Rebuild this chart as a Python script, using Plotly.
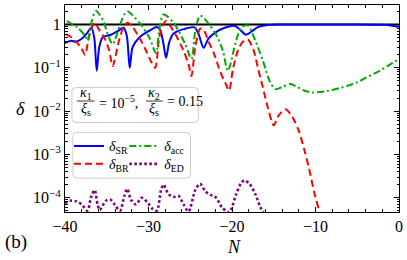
import plotly.graph_objects as go

# ---------------- data ----------------
N_SR = [-40, -39.3, -38.7, -38.0, -37.4, -36.85, -36.5, -36.2, -35.9, -35.5, -34.5, -33.7, -33.0,
        -32.6, -32.25, -31.9, -31.1, -30.0, -29.0, -28.6, -28.2, -27.9, -27.5, -27.0, -25.8,
        -24.5, -24.0, -23.4, -22.8, -22.0, -20.8, -19.7, -19.0, -18.35, -17.6, -16.9, -15.7,
        -14.5, -10, -5, -2, -1, 0]
d_SR = [0.37, 0.42, 0.40, 0.47, 0.62, 0.84, 0.5, 0.085, 0.3, 0.5, 0.58, 0.7, 0.84,
        0.55, 0.1, 0.3, 0.5, 0.7, 0.88, 0.75, 0.35, 0.17, 0.4, 0.62, 0.78,
        0.86, 0.6, 0.29, 0.48, 0.65, 0.85, 0.93, 0.75, 0.58, 0.7, 0.87, 0.97,
        1.0, 1.0, 1.0, 0.98, 0.95, 0.88]

N_BR = [-39.9, -39.2, -38.1, -37.6, -37.2, -36.8, -36.45, -35.9, -35.3, -34.7, -34.3, -33.5,
        -33.0, -32.5, -31.95, -31.1, -30.3, -29.7, -29.2, -28.75, -28.4, -27.9, -27.0, -25.8,
        -25.2, -24.85, -24.4, -23.8, -23.4, -22.8, -22.1, -21.4, -20.8, -20.35, -19.9, -19.3,
        -18.7, -18.1, -17.4, -16.9, -16.3, -15.7, -15.0, -14.4, -13.6, -12.8, -12.0, -11.3,
        -10.8, -10.1, -9.5, -8.9]
d_BR = [0.6, 0.5, 0.3, 0.2, 0.45, 0.85, 1.1, 0.75, 0.5, 0.25, 0.11, 0.45,
        0.85, 1.1, 0.9, 0.5, 0.25, 0.14, 0.1, 0.45, 0.85, 1.2, 0.7, 0.25,
        0.12, 0.065, 0.3, 0.8, 0.75, 0.4, 0.2, 0.08, 0.045, 0.03, 0.09, 0.25,
        0.4, 0.45, 0.25, 0.1, 0.035, 0.012, 0.0047, 0.008, 0.011, 0.0075, 0.0035, 0.0012,
        5e-4, 1.2e-4, 4.5e-5, 1.5e-5]

N_acc = [-39.8, -38.5, -37.6, -37.3, -36.9, -36.3, -35.4, -34.9, -34.3, -33.4, -32.9, -32.5,
         -31.1, -29.9, -29.1, -28.7, -28.2, -27.0, -25.6, -24.85, -24.4, -23.8, -22.05, -21.1,
         -20.5, -19.5, -18.9, -18.1, -17.2, -16.3, -15.5, -14.8, -14.0, -13.0, -12.2, -11.4,
         -10.4, -8.6, -6.9, -5.1, -3.9, -2.1, 0]
d_acc = [1.2, 0.85, 0.55, 0.42, 1.0, 2.05, 1.2, 0.6, 0.35, 1.0, 1.7, 2.0,
         1.1, 0.5, 0.22, 0.8, 1.7, 1.1, 0.35, 0.16, 0.7, 1.6, 0.65, 0.25,
         0.085, 0.42, 0.85, 0.95, 0.42, 0.145, 0.05, 0.032, 0.036, 0.042, 0.036, 0.03,
         0.027, 0.029, 0.035, 0.045, 0.06, 0.09, 0.16]

N_ED = [-40, -39.4, -38.7, -38.0, -37.3, -36.9, -36.45, -36.1, -35.85, -35.1, -34.55, -33.95,
        -33.4, -32.9, -32.55, -32.1, -31.5, -30.8, -30.05, -29.5, -29.0, -28.5, -28.2, -27.6,
        -27.0, -26.4, -25.8, -25.2, -24.4, -23.8, -23.2, -22.5, -21.9, -21.2, -20.35, -19.5,
        -18.9, -18.5, -17.9, -17.2, -16.6, -16.1, -15.6]
d_ED = [7.5e-5, 8.5e-5, 8.3e-5, 7e-5, 5e-5, 1.0e-4, 1.5e-4, 7e-5, 5.2e-5, 8.5e-5, 9e-5, 6.5e-5,
        5e-5, 1.1e-4, 1.6e-4, 9e-5, 7e-5, 1.0e-4, 7.5e-5, 5.5e-5, 5e-5, 1.5e-4, 2e-4, 1.2e-4,
        1.05e-4, 1.1e-4, 7e-5, 4.8e-5, 1.5e-4, 2.1e-4, 1.4e-4, 1.15e-4, 1.0e-4, 6e-5, 4.6e-5, 1.2e-4,
        2.2e-4, 2.5e-4, 2.1e-4, 1.2e-4, 6e-5, 4e-5, 2e-5]

REF_LEVEL = 1.0
Y_TICKS = [1e-4, 1e-3, 1e-2, 1e-1, 1]
Y_TICKTEXT = ["10<sup>−4</sup>", "10<sup>−3</sup>", "10<sup>−2</sup>", "10<sup>−1</sup>", "1"]
X_TICKS = [-40, -30, -20, -10, 0]

# ---------------- figure ----------------
SERIF = "Liberation Serif"
W, H = 407, 260
ML, MR, MT, MB = 65, 4, 4, 48
PW, PH = W - ML - MR, H - MT - MB


def px2paper(px, py):
    return (px - ML) / PW, (H - MB - py) / PH


def rounded_box(x0, y0, x1, y1, r=4):
    ax0, ay1 = px2paper(x0, y0)
    ax1, ay0 = px2paper(x1, y1)
    rx, ry = r / PW, r / PH
    return (f"M{ax0+rx},{ay1} L{ax1-rx},{ay1} Q{ax1},{ay1} {ax1},{ay1-ry} "
            f"L{ax1},{ay0+ry} Q{ax1},{ay0} {ax1-rx},{ay0} L{ax0+rx},{ay0} "
            f"Q{ax0},{ay0} {ax0},{ay0+ry} L{ax0},{ay1-ry} Q{ax0},{ay1} {ax0+rx},{ay1} Z")


fig = go.Figure()
fig.add_trace(go.Scatter(x=N_SR, y=d_SR, mode="lines", name="<i>δ</i><sub>SR</sub>",
                         line=dict(color="#0000ff", width=2, shape="spline", smoothing=0.8),
                         legend="legend"))
fig.add_trace(go.Scatter(x=N_BR, y=d_BR, mode="lines", name="<i>δ</i><sub>BR</sub>",
                         line=dict(color="#ff0000", width=2, dash="7px,4px", shape="spline", smoothing=0.8),
                         legend="legend2"))
fig.add_trace(go.Scatter(x=N_acc, y=d_acc, mode="lines", name="<i>δ</i><sub>acc</sub>",
                         line=dict(color="#00aa00", width=2, dash="7px,3px,2px,3px", shape="spline", smoothing=0.8),
                         legend="legend3"))
fig.add_trace(go.Scatter(x=N_ED, y=d_ED, mode="lines", name="<i>δ</i><sub>ED</sub>",
                         line=dict(color="#800080", width=2.6, dash="2.6px,2.4px", shape="spline", smoothing=0.8),
                         legend="legend4"))

minor_y = [m * 10.0 ** e for e in range(-5, 1) for m in range(2, 10)]

axis_common = dict(showline=True, linecolor="black", linewidth=1, mirror="allticks",
                   ticks="inside", tickcolor="black", showgrid=False, zeroline=False,
                   tickfont=dict(family=SERIF, size=16, color="black"))

fig.update_xaxes(range=[-40, 0], tickvals=X_TICKS, ticklen=5, ticklabeloverflow="allow",
                 minor=dict(dtick=2, ticks="inside", ticklen=3, tickcolor="black", showgrid=False),
                 **axis_common)
fig.update_yaxes(type="log", range=[-4.33, 0.45], tickvals=Y_TICKS, ticktext=Y_TICKTEXT, ticklen=5,
                 minor=dict(tickmode="array", tickvals=minor_y, ticks="inside", ticklen=2.5,
                            tickcolor="black", showgrid=False),
                 **axis_common)

leg_common = dict(bgcolor="rgba(0,0,0,0)", borderwidth=0, xanchor="left", yanchor="middle",
                  font=dict(family=SERIF, size=14, color="black"), itemwidth=30)
c1, r1 = px2paper(69, 146)
c2, r2 = px2paper(125, 164)
fig.update_layout(
    width=W, height=H, margin=dict(l=ML, r=MR, t=MT, b=MB),
    paper_bgcolor="white", plot_bgcolor="white",
    legend=dict(x=c1, y=r1, **leg_common),
    legend2=dict(x=c1, y=r2, **leg_common),
    legend3=dict(x=c2, y=r1, **leg_common),
    legend4=dict(x=c2, y=r2, **leg_common),
    showlegend=True,
)

shapes = [
    dict(type="line", xref="paper", x0=0, x1=1, yref="y", y0=REF_LEVEL, y1=REF_LEVEL,
         line=dict(color="black", width=2), layer="below"),
    dict(type="path", xref="paper", yref="paper", path=rounded_box(72, 87, 200, 122),
         fillcolor="rgba(255,255,255,0.85)", line=dict(color="#cccccc", width=1), layer="above"),
    dict(type="path", xref="paper", yref="paper", path=rounded_box(73, 132, 192, 178),
         fillcolor="rgba(255,255,255,0.85)", line=dict(color="#cccccc", width=1), layer="above"),
]
# fraction bars
for (a, b) in [(77, 95), (147, 164)]:
    xa, yb = px2paper(a, 100.5)
    xb, _ = px2paper(b, 100.5)
    shapes.append(dict(type="line", xref="paper", yref="paper", x0=xa, x1=xb, y0=yb, y1=yb,
                       line=dict(color="black", width=0.8), layer="above"))
fig.update_layout(shapes=shapes)

ann = []


def add_text(text, px, py, size=14, xanchor="center"):
    x, y = px2paper(px, py)
    ann.append(dict(text=text, x=x, y=y, xref="paper", yref="paper", showarrow=False,
                    xanchor=xanchor, yanchor="middle",
                    font=dict(family=SERIF, size=size, color="black")))


add_text("<i>κ</i><sub>1</sub>", 86.5, 93)
add_text("<i>ξ</i><sub>s</sub>", 86, 109)
add_text("= 10<sup>−5</sup>,", 97, 101, xanchor="left")
add_text("<i>κ</i><sub>2</sub>", 155.5, 93)
add_text("<i>ξ</i><sub>s</sub>", 155, 109)
add_text("= 0.15", 166, 101, xanchor="left")
add_text("<i>δ</i>", 20, 108, size=18)
add_text("<i>N</i>", 236, 247, size=18)
add_text("(b)", 15, 242, size=19)
fig.update_layout(annotations=ann)

fig.write_html("out.html", config={"displayModeBar": False},
               post_script="document.body.style.margin='0';")
